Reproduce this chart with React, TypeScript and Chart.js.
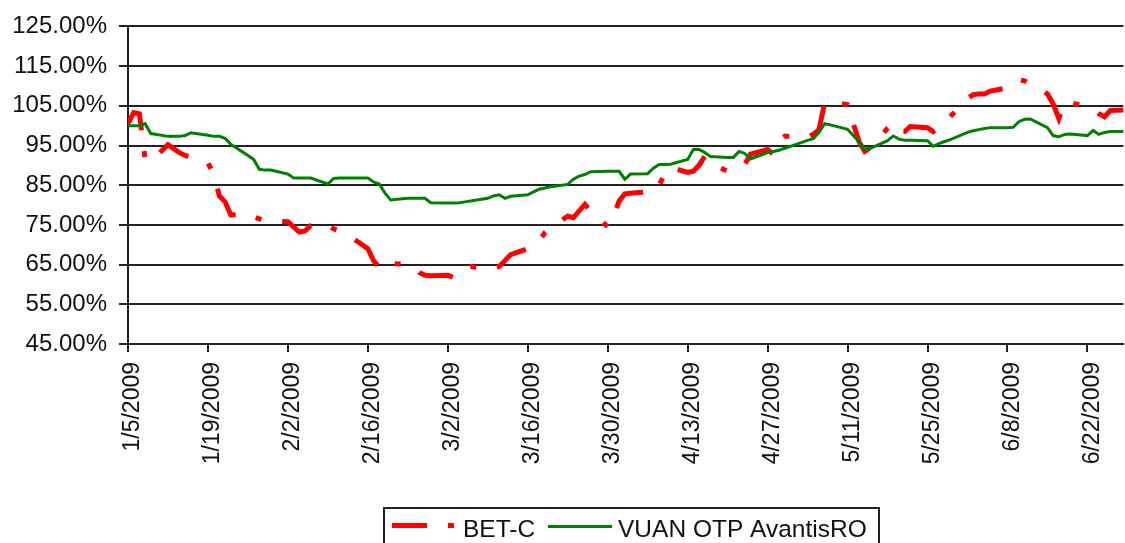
import React, { useEffect, useRef } from 'react';
import { Chart, registerables } from 'chart.js';

Chart.register(...registerables);

// Trading dates (2009)
const tradingDates: string[] = [
  '1/5', '1/6', '1/7', '1/8', '1/9',
  '1/12', '1/13', '1/14', '1/15', '1/16',
  '1/19', '1/20', '1/21', '1/22', '1/23',
  '1/26', '1/27', '1/28', '1/29', '1/30',
  '2/2', '2/3', '2/4', '2/5', '2/6',
  '2/9', '2/10', '2/11', '2/12', '2/13',
  '2/16', '2/17', '2/18', '2/19', '2/20',
  '2/23', '2/24', '2/25', '2/26', '2/27',
  '3/2', '3/3', '3/4', '3/5', '3/6',
  '3/9', '3/10', '3/11', '3/12', '3/13',
  '3/16', '3/17', '3/18', '3/19', '3/20',
  '3/23', '3/24', '3/25', '3/26', '3/27',
  '3/30', '3/31', '4/1', '4/2', '4/3',
  '4/6', '4/7', '4/8', '4/9', '4/10',
  '4/13', '4/14', '4/15', '4/16', '4/17',
  '4/20', '4/21', '4/22', '4/23', '4/24',
  '4/27', '4/28', '4/29', '4/30', '5/1',
  '5/4', '5/5', '5/6', '5/7', '5/8',
  '5/11', '5/12', '5/13', '5/14', '5/15',
  '5/18', '5/19', '5/20', '5/21', '5/22',
  '5/25', '5/26', '5/27', '5/28', '5/29',
  '6/1', '6/2', '6/3', '6/4', '6/5',
  '6/8', '6/9', '6/10', '6/11', '6/12',
  '6/15', '6/16', '6/17', '6/18', '6/19',
  '6/22', '6/23', '6/24', '6/25', '6/26',
  '6/29',
];

const betC: number[] = [
  100.5, 103.3, 103, 91.5, 91,
  95.2, 94.2, 93.2, 92.5, 92,
  90.5, 88, 82.3, 80.8, 77.5,
  77.8, 77, 76.5, 76, 76,
  75.8, 74.5, 73.2, 73.5, 74.8,
  75, 74, 73.5, 72.5, 72,
  69, 66, 64.3, 65.8, 65.3,
  65, 64.5, 63, 62.3, 62.2,
  62.3, 61.8, 62.2, 63.5, 64.5,
  64, 64, 64.5, 66, 67.5,
  69, 69.5, 71, 73, 74.2,
  77.2, 76.8, 78.5, 80.2, 78.5,
  74.5, 77, 81, 82.8, 83,
  83.3, 83.3, 85, 87.8, 89.5,
  88.2, 88.5, 90, 92.3, 90.5,
  88.5, 88.8, 89.5, 90.2, 92.8,
  94, 92.8, 96, 97.3, 97.3,
  97.2, 97.8, 99, 105.8, 106,
  105.3, 100.5, 96, 93.5, 94.5,
  99.3, 100.5, 98.5, 98.5, 99.8,
  99.5, 98.5, 99.5, 100.8, 102.3,
  106.8, 107.8, 108, 108, 108.7,
  109.5, 110.3, 111.5, 111.3, 110.5,
  108, 105.5, 101.8, 105.8, 105.8,
  104.8, 104.2, 103, 102.2, 103.8,
  104,
];

const vuanOtp: number[] = [
  100, 100, 100, 100.5, 98,
  97.3, 97.3, 97.3, 97.5, 98.2,
  97.6, 97.3, 97.3, 96.8, 95.3,
  92.5, 91.5, 89, 88.8, 88.8,
  87.8, 86.8, 86.8, 86.8, 86.8,
  85.3, 86.7, 86.8, 86.8, 86.8,
  86.8, 85.8, 85.3, 83, 81.3,
  81.7, 81.7, 81.7, 81.7, 80.6,
  80.5, 80.5, 80.6, 80.8, 81,
  81.7, 82.3, 82.6, 81.7, 82.2,
  82.6, 83.3, 84, 84.3, 84.6,
  85.2, 86.5, 87.3, 87.7, 88.4,
  88.5, 88.5, 88.5, 86.5, 87.8,
  87.9, 89.3, 90.2, 90.2, 90.3,
  91.5, 94, 94, 93.2, 92.2,
  92, 92, 93.5, 93, 91.6,
  93.2, 93.5, 93.8, 94.3, 94.8,
  96.3, 96.7, 98.3, 100.5, 100.2,
  99.1, 97.5, 96, 94, 94.3,
  96.2, 97.4, 96.6, 96.3, 96.3,
  96.2, 94.8, 95.5, 96, 96.5,
  98.3, 98.7, 99, 99.3, 99.5,
  99.5, 99.6, 101, 101.6, 101.7,
  99.5, 97.5, 97.2, 97.8, 97.9,
  97.5, 98.8, 97.8, 98.3, 98.5,
  98.5,
];

const seriesNames: string[] = ['BET-C', 'VUAN OTP AvantisRO'];

const xTickLabels: string[] = [
  '1/5/2009', '1/19/2009', '2/2/2009', '2/16/2009', '3/2/2009', '3/16/2009',
  '3/30/2009', '4/13/2009', '4/27/2009', '5/11/2009', '5/25/2009', '6/8/2009', '6/22/2009',
];

const X_MAX_DAY = 174.3;
const Y_MIN = 45;
const Y_MAX = 125;
const Y_STEP = 10;

const BASE = Date.UTC(2009, 0, 5);
function dayOffset(md: string): number {
  const parts = md.split('/').map(Number);
  const [m, d] = parts;
  const y = parts.length > 2 ? parts[2] : 2009;
  return Math.round((Date.UTC(y, m - 1, d) - BASE) / 86400000);
}

const tickDays = xTickLabels.map(dayOffset);

const FONT = '"Liberation Sans", Arial, sans-serif';

const boxLegend = {
  id: 'boxLegend',
  afterDraw(chart: any) {
    const ctx = chart.ctx as CanvasRenderingContext2D;
    const ds = chart.data.datasets;
    ctx.save();
    // frame
    ctx.strokeStyle = '#222';
    ctx.lineWidth = 2;
    ctx.strokeRect(384, 508, 495, 50);
    // BET-C sample
    ctx.beginPath();
    ctx.setLineDash([35, 21, 6, 21]);
    ctx.strokeStyle = ds[0].borderColor;
    ctx.lineWidth = 5;
    ctx.lineCap = 'butt';
    ctx.moveTo(392, 525.5);
    ctx.lineTo(454, 525.5);
    ctx.stroke();
    ctx.setLineDash([]);
    ctx.font = '24.5px ' + FONT;
    ctx.fillStyle = '#111';
    ctx.textBaseline = 'alphabetic';
    ctx.textAlign = 'left';
    ctx.fillText(ds[0].label, 463, 537);
    // VUAN sample
    ctx.beginPath();
    ctx.strokeStyle = ds[1].borderColor;
    ctx.lineWidth = 3;
    ctx.moveTo(548, 526.5);
    ctx.lineTo(612, 526.5);
    ctx.stroke();
    ctx.fillText(ds[1].label, 618, 537);
    ctx.restore();
  },
};

export default function App() {
  const ref = useRef<HTMLCanvasElement | null>(null);

  useEffect(() => {
    if (!ref.current) return;
    const xs = tradingDates.map(dayOffset);
    const chart = new Chart(ref.current, {
      type: 'line',
      data: {
        datasets: [
          {
            label: seriesNames[0],
            data: xs.map((x, i) => ({ x, y: betC[i] })),
            borderColor: '#ff0000',
            borderWidth: 5,
            borderDash: [35, 21, 6, 21],
            borderCapStyle: 'butt',
            pointRadius: 0,
            tension: 0,
            fill: false,
            order: 1,
          },
          {
            label: seriesNames[1],
            data: xs.map((x, i) => ({ x, y: vuanOtp[i] })),
            borderColor: '#008000',
            borderWidth: 3,
            pointRadius: 0,
            tension: 0,
            fill: false,
            order: 0,
          },
        ],
      },
      options: {
        responsive: false,
        maintainAspectRatio: false,
        devicePixelRatio: 1,
        animation: false,
        layout: { padding: { top: 24, left: 0, right: 0, bottom: 0 } },
        plugins: {
          legend: { display: false },
          tooltip: { enabled: false },
        },
        scales: {
          x: {
            type: 'linear',
            min: 0,
            max: X_MAX_DAY,
            afterFit: (s: any) => { s.height = 199; },
            afterBuildTicks: (s: any) => { s.ticks = tickDays.map((v) => ({ value: v })); },
            grid: { drawOnChartArea: false, drawTicks: true, tickLength: 8, color: '#222', lineWidth: 2 },
            border: { display: true, color: '#222', width: 2 },
            ticks: {
              autoSkip: false,
              maxRotation: 90,
              minRotation: 90,
              padding: 10,
              labelOffset: 5,
              color: '#111',
              font: { family: FONT, size: 23 },
              callback: (v: any) => {
                const i = tickDays.indexOf(Number(v));
                return i >= 0 ? xTickLabels[i] : '';
              },
            },
          },
          y: {
            min: Y_MIN,
            max: Y_MAX,
            afterFit: (s: any) => { s.width = 128; },
            grid: { color: '#222', lineWidth: 2, drawTicks: true, tickLength: 9 },
            border: { display: true, color: '#222', width: 2 },
            ticks: {
              stepSize: Y_STEP,
              padding: 12,
              color: '#111',
              font: { family: FONT, size: 24 },
              callback: (v: any) => Number(v).toFixed(2) + '%',
            },
          },
        },
      },
      plugins: [boxLegend],
    } as any);
    return () => chart.destroy();
  }, []);

  return (
    <div style={{ position: 'absolute', left: 0, top: 0, width: 1125, height: 543, background: '#fff' }}>
      <canvas ref={ref} width={1125} height={543} style={{ display: 'block' }} />
    </div>
  );
}
